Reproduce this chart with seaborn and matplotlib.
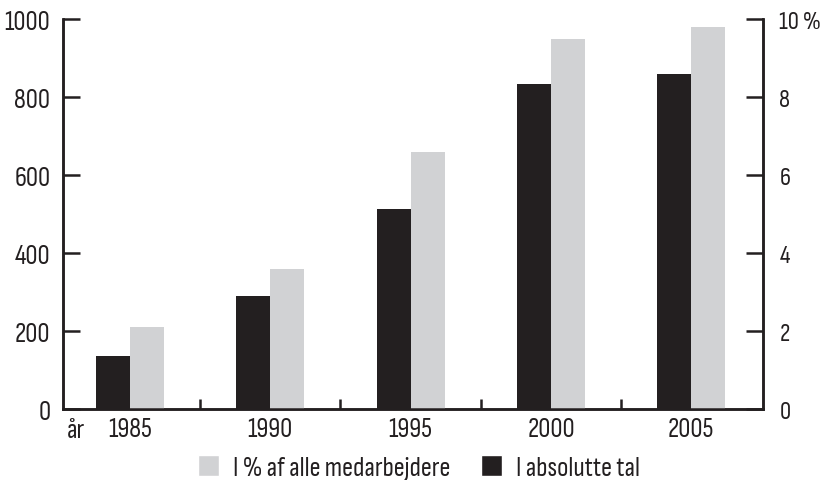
import pandas as pd
import numpy as np
import matplotlib.pyplot as plt
from matplotlib.ticker import FixedLocator
from matplotlib.patches import Patch
import seaborn as sns

# data
years = ['1985', '1990', '1995', '2000', '2005']
absolute = [135, 290, 512, 834, 860]
percent = [2.1, 3.6, 6.6, 9.5, 9.8]
left_ticks = [0, 200, 400, 600, 800, 1000]
right_ticks = [0, 2, 4, 6, 8, 10]
right_labels = ['0', '2', '4', '6', '8', '10 %']
lbl_pct = 'I % af alle medarbejdere'
lbl_abs = 'I absolutte tal'

black = '#231f20'
grey = '#d1d2d4'
txtcol = '#231f20'
fs = 19.5

sns.set_style('white')
plt.rcParams['font.family'] = ['Sofia Sans Condensed', 'DejaVu Sans']
plt.rcParams['font.size'] = fs

# each axis gets both series so the hue dodge lines up, the other one left empty
nan = [np.nan] * len(years)
df_left = pd.DataFrame({'year': years * 2, 'value': absolute + nan,
                        'serie': ['abs'] * 5 + ['pct'] * 5})
df_right = pd.DataFrame({'year': years * 2, 'value': nan + percent,
                         'serie': ['abs'] * 5 + ['pct'] * 5})
order = ['abs', 'pct']
pal = {'abs': black, 'pct': grey}

fig = plt.figure(figsize=(8.22, 4.81), dpi=100)
ax = fig.add_axes([0.0766, 0.1476, 0.8514, 0.8108])
ax2 = ax.twinx()

sns.barplot(data=df_left, x='year', y='value', hue='serie', hue_order=order,
            palette=pal, width=0.485, gap=0, legend=False, ax=ax,
            linewidth=0, saturation=1, errorbar=None)
sns.barplot(data=df_right, x='year', y='value', hue='serie', hue_order=order,
            palette=pal, width=0.485, gap=0, legend=False, ax=ax2,
            linewidth=0, saturation=1, errorbar=None)

ax.set_xlim(-0.478, 4.51)
ax.set_ylim(0, 1000)
ax2.set_ylim(0, 10)
ax.set_yticks(left_ticks)
ax2.set_yticks(right_ticks)
ax2.set_yticklabels(right_labels)
ax.set_xlabel('')
ax.set_ylabel('')
ax2.set_ylabel('')

for a in (ax, ax2):
    for s in a.spines.values():
        s.set_linewidth(1.8)
        s.set_color(black)
    a.spines['top'].set_visible(False)

ax.tick_params(axis='y', direction='in', length=12, width=1.8, color=black,
               pad=9, labelcolor=txtcol)
ax2.tick_params(axis='y', direction='in', length=12, width=1.8, color=black,
                pad=12, labelcolor=txtcol, labelsize=18)
ax.tick_params(axis='x', which='major', length=0, pad=6, labelcolor=txtcol)
ax.xaxis.set_minor_locator(FixedLocator([0.5, 1.5, 2.5, 3.5]))
ax.tick_params(axis='x', which='minor', direction='in', length=7, width=1.8,
               color=black, bottom=True)

ax.text(0.006, -0.022, 'år', transform=ax.transAxes, ha='left', va='top',
        fontsize=fs, color=txtcol)

handles = [Patch(facecolor=grey, label=lbl_pct), Patch(facecolor=black, label=lbl_abs)]
fig.legend(handles=handles, loc='lower left', bbox_to_anchor=(0.241, 0.0),
           ncol=2, frameon=False, handlelength=0.78, handleheight=0.78,
           columnspacing=1.15, handletextpad=0.5, fontsize=fs,
           borderpad=0, borderaxespad=0, labelcolor=txtcol)

fig.savefig('out.png', dpi=100)
